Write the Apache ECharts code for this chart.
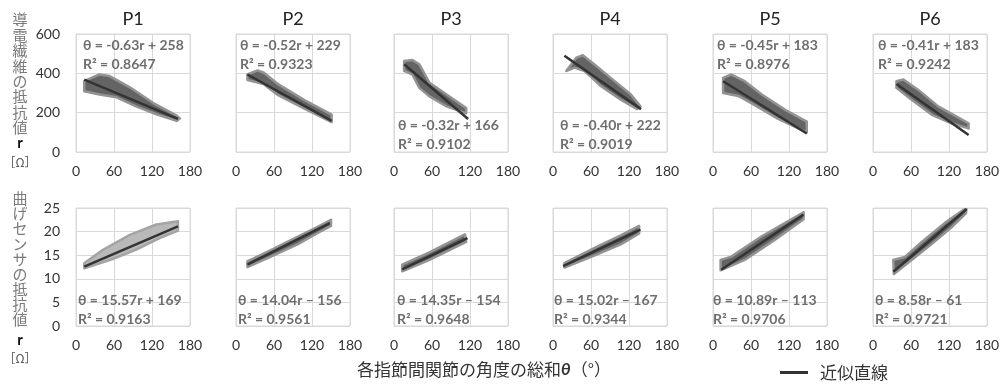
<!DOCTYPE html>
<html>
<head>
<meta charset="utf-8">
<script src="https://cdn.jsdelivr.net/npm/echarts@6/dist/echarts.min.js"></script>
<style>
  html, body { margin: 0; background: #fff; }
  #main { width: 1003px; height: 384px; }
</style>
</head>
<body>
<div id="main"></div>
<script>
// ---- data ----
const panels = ['P1', 'P2', 'P3', 'P4', 'P5', 'P6'];
const xTicks = [0, 60, 120, 180];
const fibreTicks = [0, 200, 400, 600];
const bendTicks = [0, 5, 10, 15, 20, 25];

// 導電繊維の抵抗値: fitted line end points [θ, r]
const fibreLine = [
  [[13, 368], [161, 168]],
  [[18, 394], [151, 158]],
  [[16, 446], [117, 168]],
  [[18, 489], [139, 218]],
  [[16, 360], [148, 94]],
  [[37, 346], [151, 86]]
];
// outline of the measured point cloud (upper edge, lower edge)
const fibreUpper = [
  [[13, 360], [37, 394], [53, 386], [85, 329], [122, 249], [159, 185], [164, 171]],
  [[18, 394], [34, 415], [44, 403], [65, 348], [108, 264], [151, 190]],
  [[16, 463], [29, 468], [40, 446], [56, 352], [83, 292], [114, 223]],
  [[37, 480], [47, 492], [65, 446], [91, 377], [123, 292], [138, 232]],
  [[16, 377], [29, 394], [50, 360], [77, 292], [114, 214], [148, 154]],
  [[37, 360], [48, 369], [71, 317], [103, 232], [151, 146]]
];
const fibreLower = [
  [[13, 309], [37, 292], [64, 278], [95, 232], [127, 192], [159, 158]],
  [[18, 366], [44, 345], [65, 292], [108, 220], [151, 152]],
  [[16, 412], [29, 394], [40, 326], [56, 283], [83, 232], [114, 197]],
  [[21, 412], [34, 429], [50, 412], [76, 334], [107, 266], [133, 218]],
  [[16, 300], [40, 285], [66, 238], [103, 168], [148, 100]],
  [[37, 326], [61, 266], [93, 189], [124, 146], [151, 120]]
];
const fibreEq = ['θ = -0.63r + 258', 'θ = -0.52r + 229', 'θ = -0.32r + 166',
                 'θ = -0.40r + 222', 'θ = -0.45r + 183', 'θ = -0.41r + 183'];
const fibreR2 = ['R² = 0.8647', 'R² = 0.9323', 'R² = 0.9102',
                 'R² = 0.9019', 'R² = 0.8976', 'R² = 0.9242'];

// 曲げセンサの抵抗値
const bendLine = [
  [[13, 12.6], [161, 21.1]],
  [[18, 13.0], [148, 21.8]],
  [[13, 12.0], [116, 18.6]],
  [[16, 12.7], [138, 20.4]],
  [[13, 11.9], [143, 23.6]],
  [[32, 11.5], [148, 24.8]]
];
const bendUpper = [
  [[13, 13.3], [42, 16.1], [85, 19.3], [127, 21.5], [161, 22.2]],
  [[18, 13.7], [55, 16.1], [97, 18.9], [129, 21.0], [150, 22.5]],
  [[13, 13.0], [56, 15.6], [112, 19.4]],
  [[18, 13.3], [65, 16.5], [107, 19.2], [136, 21.2]],
  [[12, 14.0], [29, 14.7], [77, 19.0], [143, 24.1]],
  [[32, 14.0], [50, 14.6], [77, 17.8], [114, 21.9], [147, 25.0]]
];
const bendLower = [
  [[13, 12.2], [58, 14.2], [95, 16.2], [132, 18.6], [161, 20.2]],
  [[18, 12.5], [55, 14.7], [97, 17.3], [129, 19.7], [150, 21.2]],
  [[13, 11.6], [56, 14.0], [114, 17.8]],
  [[18, 12.4], [65, 14.9], [107, 17.3], [136, 19.6]],
  [[12, 11.8], [50, 14.0], [98, 18.3], [143, 22.6]],
  [[33, 11.0], [61, 14.0], [93, 17.4], [124, 20.9], [147, 23.9]]
];
const bendEq = ['θ = 15.57r + 169', 'θ = 14.04r – 156', 'θ = 14.35r – 154',
                'θ = 15.02r – 167', 'θ = 10.89r – 113', 'θ = 8.58r – 61'];
const bendR2 = ['R² = 0.9163', 'R² = 0.9561', 'R² = 0.9648',
                'R² = 0.9344', 'R² = 0.9706', 'R² = 0.9721'];

// ---- layout ----
const gridLeft = [76, 236, 394, 553, 713, 873];
const gridW = 114, gridH = 118;
const rowTop = [34, 208];
// where each equation label starts (pixels)
const fibreEqPos = [[83, 45], [240, 45], [398, 125], [560, 125], [717, 45], [878, 45]];
const bendEqPos = [[78, 300], [238, 300], [397, 300], [554, 300], [713, 300], [875, 300]];

const latin = 'Lato, "Open Sans", sans-serif';
const jp = '"Noto Sans CJK JP", sans-serif';

let grids = [], xAxes = [], yAxes = [], series = [], graphics = [];

function bandRender(upper, lower, fill, stroke) {
  const pts = upper.concat(lower.slice().reverse());
  return function (params, api) {
    return {
      type: 'polygon',
      shape: { points: pts.map(p => api.coord(p)) },
      style: { fill: fill, stroke: stroke, lineWidth: 2.5, lineJoin: 'round' }
    };
  };
}

function addPanel(row, i) {
  const idx = grids.length;
  const ticks = row === 0 ? fibreTicks : bendTicks;
  grids.push({
    left: gridLeft[i], top: rowTop[row], width: gridW, height: gridH,
    show: true, borderColor: '#d9d9d9', borderWidth: 1
  });
  xAxes.push({
    gridIndex: idx, type: 'value', min: xTicks[0], max: xTicks[xTicks.length - 1],
    interval: xTicks[1] - xTicks[0],
    axisLine: { show: false }, axisTick: { show: false },
    splitLine: { lineStyle: { color: '#d9d9d9', width: 1 } },
    axisLabel: { color: '#333', fontSize: 14, fontFamily: latin, margin: 12 }
  });
  yAxes.push({
    gridIndex: idx, type: 'value', min: ticks[0], max: ticks[ticks.length - 1],
    interval: ticks[1] - ticks[0],
    axisLine: { show: false }, axisTick: { show: false },
    splitLine: { lineStyle: { color: '#d9d9d9', width: 1 } },
    axisLabel: { show: i === 0, color: '#333', fontSize: 14, fontFamily: latin, margin: 16 }
  });
  const up = row === 0 ? fibreUpper[i] : bendUpper[i];
  const lo = row === 0 ? fibreLower[i] : bendLower[i];
  const light = row === 1 && i === 0;
  series.push({
    type: 'custom', xAxisIndex: idx, yAxisIndex: idx, clip: true, silent: true,
    renderItem: bandRender(up, lo, light ? '#b9b9b9' : '#646464', light ? '#a4a4a4' : '#939393'),
    data: [up[0]], z: 2
  });
  series.push({
    name: '近似直線', type: 'line', xAxisIndex: idx, yAxisIndex: idx,
    data: row === 0 ? fibreLine[i] : bendLine[i],
    symbol: 'none', silent: true, clip: true,
    itemStyle: { color: '#333333' },
    lineStyle: { color: '#333333', width: 2.5 }, z: 3
  });
  const pos = row === 0 ? fibreEqPos[i] : bendEqPos[i];
  const eq = row === 0 ? fibreEq[i] : bendEq[i];
  const r2 = row === 0 ? fibreR2[i] : bendR2[i];
  [eq, r2].forEach((t, k) => {
    graphics.push({
      type: 'text', x: pos[0], y: pos[1] + k * 19.5, z: 10,
      style: { text: t, fill: '#6e6e6e', font: 'bold 14px ' + latin, verticalAlign: 'middle' }
    });
  });
}

for (let r = 0; r < 2; r++) for (let i = 0; i < 6; i++) addPanel(r, i);

panels.forEach((p, i) => {
  graphics.push({
    type: 'text', x: gridLeft[i] + gridW / 2, y: 19,
    style: { text: p, fill: '#222', font: '18px ' + latin, align: 'center', verticalAlign: 'middle' }
  });
});

// vertical axis names
graphics.push({
  type: 'text', x: 20, y: 12,
  style: { text: '導\n電\n繊\n維\nの\n抵\n抗\n値', fill: '#7a7a7a', font: '15px ' + jp,
           align: 'center', lineHeight: 15.4 }
});
graphics.push({ type: 'text', x: 20, y: 143,
  style: { text: 'r', fill: '#111', font: 'bold 15px ' + latin, align: 'center', verticalAlign: 'middle' } });
graphics.push({ type: 'text', x: 20, y: 162,
  style: { text: '［Ω］', fill: '#555', font: '12px ' + jp, align: 'center', verticalAlign: 'middle' } });

graphics.push({
  type: 'text', x: 20, y: 191,
  style: { text: '曲\nげ\nセ\nン\nサ\nの\n抵\n抗\n値', fill: '#7a7a7a', font: '15px ' + jp,
           align: 'center', lineHeight: 15.1 }
});
graphics.push({ type: 'text', x: 20, y: 340,
  style: { text: 'r', fill: '#111', font: 'bold 15px ' + latin, align: 'center', verticalAlign: 'middle' } });
graphics.push({ type: 'text', x: 20, y: 358,
  style: { text: '［Ω］', fill: '#555', font: '12px ' + jp, align: 'center', verticalAlign: 'middle' } });

// x axis name
graphics.push({
  type: 'text', x: 484, y: 370,
  style: {
    text: '各指節間関節の角度の総和{t|θ}（°）',
    fill: '#333', font: '17px ' + jp, align: 'center', verticalAlign: 'middle',
    rich: { t: { fontStyle: 'italic', fontWeight: 'bold', fontSize: 17, fontFamily: latin, fill: '#333' } }
  }
});

const chart = echarts.init(document.getElementById('main'));
chart.setOption({
  animation: false,
  backgroundColor: '#fff',
  grid: grids,
  xAxis: xAxes,
  yAxis: yAxes,
  series: series,
  legend: {
    data: [{ name: '近似直線', icon: 'rect' }],
    left: 775, top: 359, itemWidth: 28, itemHeight: 3,
    textStyle: { color: '#333', fontSize: 17, fontFamily: jp, padding: [0, 0, 0, 7] }
  },
  graphic: graphics
});
</script>
</body>
</html>
